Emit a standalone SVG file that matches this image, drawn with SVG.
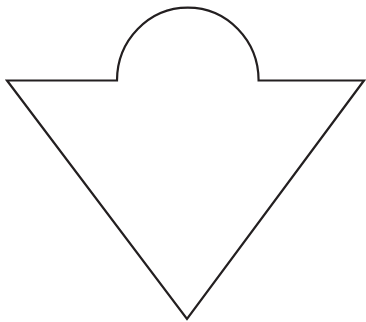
<svg xmlns="http://www.w3.org/2000/svg" width="366" height="322" viewBox="0 0 366 322">
<style>.s{fill:#fff;stroke:#231f20;stroke-width:2.2;stroke-linejoin:miter}</style>
<rect width="366" height="322" fill="#fff"/>
<g id="shape">
<path class="s" d="M7,80.5 L117,80.5 A70.8 73 0 0 1 258.6,80.5 L364,80.5 L187,319 Z"/>
</g>
</svg>
